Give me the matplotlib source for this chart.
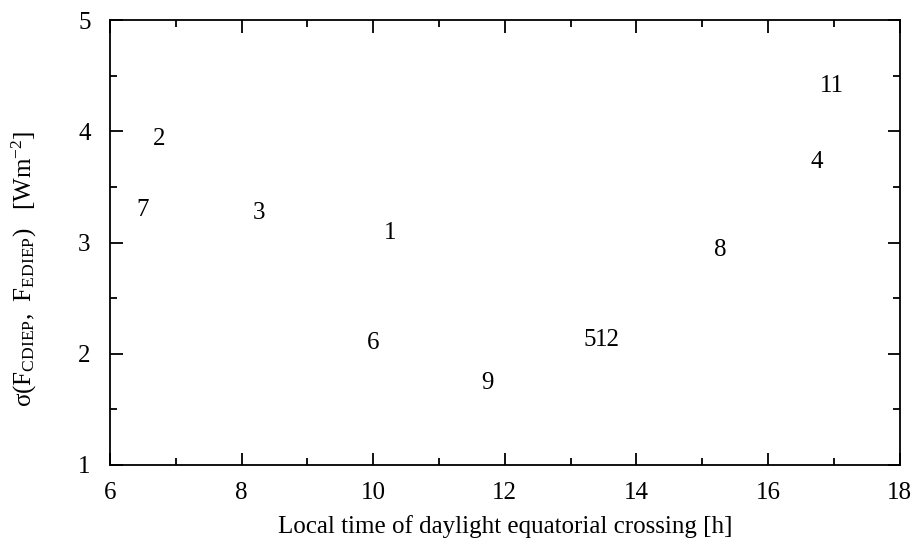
import matplotlib.pyplot as plt
from matplotlib.ticker import MultipleLocator

# satellite number and position (local crossing time, sigma)
labels = ["1", "2", "3", "4", "5", "6", "7", "8", "9", "11", "12"]
crossing_time = [10.26, 6.74, 8.26, 16.74, 13.29, 10.0, 6.49, 15.27, 11.74, 16.97, 13.56]
sigma = [3.09, 3.93, 3.27, 3.72, 2.12, 2.10, 3.29, 2.93, 1.74, 4.41, 2.12]

plt.rcParams["font.family"] = ["Liberation Serif", "DejaVu Serif"]
plt.rcParams["mathtext.fontset"] = "custom"
plt.rcParams["mathtext.rm"] = "Liberation Serif"
plt.rcParams["mathtext.it"] = "Liberation Serif:italic"

FONTSIZE = 18

fig = plt.figure(figsize=(9.17, 5.45), dpi=100)
ax = fig.add_axes([0.12, 0.147, 0.861, 0.816])

for lab, xv, yv in zip(labels, crossing_time, sigma):
    ax.text(xv, yv, lab, ha="center", va="center", fontsize=FONTSIZE)

ax.set_xlim(6, 18)
ax.set_ylim(1, 5)
ax.xaxis.set_major_locator(MultipleLocator(2))
ax.xaxis.set_minor_locator(MultipleLocator(1))
ax.yaxis.set_major_locator(MultipleLocator(1))
ax.yaxis.set_minor_locator(MultipleLocator(0.5))
ax.tick_params(which="both", direction="in", top=True, right=True,
               labelsize=FONTSIZE, width=1.3)
ax.tick_params(axis="x", which="major", length=9, pad=12)
ax.tick_params(axis="y", which="major", length=9, pad=14)
ax.tick_params(which="minor", length=5)
for sp in ax.spines.values():
    sp.set_linewidth(1.3)

ax.set_xlabel("Local time of daylight equatorial crossing [h]", fontsize=FONTSIZE,
              labelpad=8)
ax.set_ylabel("σ(F$_{\\mathrm{CDIEP}}$,  F$_{\\mathrm{EDIEP}}$)   [Wm$^{-2}$]",
              fontsize=FONTSIZE)
ax.yaxis.set_label_coords(-0.09, 0.44)

fig.savefig("out.png", dpi=100)
